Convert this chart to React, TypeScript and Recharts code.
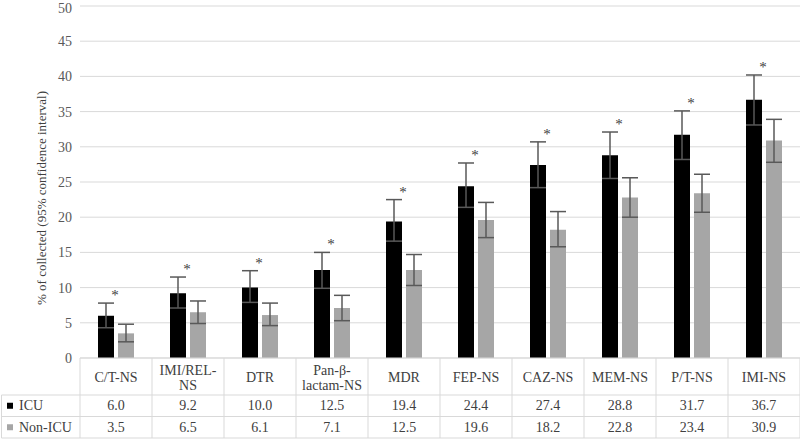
import { ComposedChart, Bar, Line, XAxis, YAxis, CartesianGrid, ErrorBar } from "recharts";

// categories (table header) and the two groups
const categories = ["C/T-NS", "IMI/REL-NS", "DTR", "Pan-β-lactam-NS", "MDR", "FEP-NS", "CAZ-NS", "MEM-NS", "P/T-NS", "IMI-NS"];
const headerLines = [["C/T-NS"], ["IMI/REL-", "NS"], ["DTR"], ["Pan-β-", "lactam-NS"], ["MDR"], ["FEP-NS"], ["CAZ-NS"], ["MEM-NS"], ["P/T-NS"], ["IMI-NS"]];

const icu = [6.0, 9.2, 10.0, 12.5, 19.4, 24.4, 27.4, 28.8, 31.7, 36.7];
const nonIcu = [3.5, 6.5, 6.1, 7.1, 12.5, 19.6, 18.2, 22.8, 23.4, 30.9];

// 95% confidence interval bounds
const icuLow = [4.3, 7.1, 7.9, 9.9, 16.6, 21.4, 24.2, 25.5, 28.2, 33.1];
const icuHigh = [7.8, 11.5, 12.4, 15.0, 22.5, 27.7, 30.7, 32.1, 35.1, 40.2];
const nonIcuLow = [2.3, 4.9, 4.6, 5.3, 10.3, 17.1, 15.8, 20.0, 20.7, 27.8];
const nonIcuHigh = [4.8, 8.1, 7.8, 8.9, 14.7, 22.1, 20.8, 25.6, 26.1, 33.9];

const yTicks = [0, 5, 10, 15, 20, 25, 30, 35, 40, 45, 50];

const data = categories.map((name, i) => ({
  name,
  icu: icu[i],
  nonIcu: nonIcu[i],
  icuErr: [icu[i] - icuLow[i], icuHigh[i] - icu[i]],
  nonIcuErr: [nonIcu[i] - nonIcuLow[i], nonIcuHigh[i] - nonIcu[i]],
  star: icuHigh[i],
}));

const FONT = "'Liberation Serif', 'Times New Roman', 'DejaVu Serif', serif";
const GRID = "#d9d9d9";
const TEXT = "#404040";
const CELL_W = 72;
const HEAD_H = 37;
const ROW_H = 21.5;
const fontStyle = { fontFamily: FONT };

const StarDot = (props: any) => {
  const { cx, cy, index } = props;
  if (cx == null || cy == null) return null;
  return (
    <text key={`star-${index}`} x={cx - 1} y={cy - 3} textAnchor="middle" fontSize={15} style={fontStyle} fill={TEXT}>
      *
    </text>
  );
};

const TableTick = (props: any) => {
  const { x, y, payload } = props;
  const i = payload.index;
  const left = x - CELL_W / 2;
  const right = x + CELL_W / 2;
  const top = y;
  const r1 = top + HEAD_H;
  const r2 = r1 + ROW_H;
  const r3 = r2 + ROW_H;
  const lines = headerLines[i];
  const lh = 15;
  const firstY = top + HEAD_H / 2 + 1 - ((lines.length - 1) * lh) / 2;

  return (
    <g style={fontStyle} fill={TEXT}>
      {i === 0 && (
        <g>
          <line x1={left} y1={top} x2={left} y2={r3} stroke={GRID} />
          <line x1={1.5} y1={r1} x2={left} y2={r1} stroke={GRID} />
          <line x1={1.5} y1={r2} x2={left} y2={r2} stroke={GRID} />
          <line x1={1.5} y1={r3} x2={left} y2={r3} stroke={GRID} />
          <line x1={1.5} y1={r1} x2={1.5} y2={r3} stroke={GRID} />
          <rect x={7} y={r1 + ROW_H / 2 - 3} width={6} height={6} fill="#000" />
          <text x={19} y={r1 + ROW_H / 2} dominantBaseline="central" fontSize={14}>ICU</text>
          <rect x={7} y={r2 + ROW_H / 2 - 3} width={6} height={6} fill="#a6a6a6" />
          <text x={19} y={r2 + ROW_H / 2} dominantBaseline="central" fontSize={14}>Non-ICU</text>
        </g>
      )}
      <line x1={right} y1={top} x2={right} y2={r3} stroke={GRID} />
      <line x1={left} y1={r1} x2={right} y2={r1} stroke={GRID} />
      <line x1={left} y1={r2} x2={right} y2={r2} stroke={GRID} />
      <line x1={left} y1={r3} x2={right} y2={r3} stroke={GRID} />
      {lines.map((t, k) => (
        <text key={k} x={x} y={firstY + k * lh} textAnchor="middle" dominantBaseline="central" fontSize={14}>
          {t}
        </text>
      ))}
      <text x={x} y={r1 + ROW_H / 2} textAnchor="middle" dominantBaseline="central" fontSize={14}>
        {icu[i].toFixed(1)}
      </text>
      <text x={x} y={r2 + ROW_H / 2} textAnchor="middle" dominantBaseline="central" fontSize={14}>
        {nonIcu[i].toFixed(1)}
      </text>
    </g>
  );
};

const YLabel = (props: any) => {
  const { viewBox } = props;
  const cx = 41;
  const cy = viewBox.y + viewBox.height / 2 + 16;
  return (
    <text x={cx} y={cy} transform={`rotate(-90 ${cx} ${cy})`} textAnchor="middle" dominantBaseline="central" fontSize={13} style={fontStyle} fill={TEXT}>
      % of collected (95% confidence interval)
    </text>
  );
};

const App = () => {
  return (
    <div style={{ position: "absolute", left: 0, top: 0, width: 800, height: 442, background: "#fff", fontFamily: FONT }}>
      <ComposedChart
        width={800}
        height={442}
        data={data}
        margin={{ top: 6, right: 0, bottom: 0, left: 0 }}
        barSize={16}
        barGap={4}
        style={fontStyle}
      >
        <CartesianGrid vertical={false} stroke={GRID} strokeWidth={1} />
        <XAxis
          dataKey="name"
          height={84}
          interval={0}
          tickLine={false}
          tickSize={0}
          tickMargin={0}
          axisLine={{ stroke: GRID }}
          tick={<TableTick />}
        />
        <YAxis
          width={80}
          domain={[0, 50]}
          ticks={yTicks}
          axisLine={false}
          tickLine={false}
          tickSize={0}
          tickMargin={8}
          tick={{ fontSize: 14, fill: "#595959", style: fontStyle }}
          label={<YLabel />}
        />
        <Bar dataKey="icu" fill="#000000" isAnimationActive={false}>
          <ErrorBar dataKey="icuErr" width={8} stroke="#595959" strokeWidth={1.5} direction="y" />
        </Bar>
        <Bar dataKey="nonIcu" fill="#a6a6a6" isAnimationActive={false}>
          <ErrorBar dataKey="nonIcuErr" width={8} stroke="#595959" strokeWidth={1.5} direction="y" />
        </Bar>
        <Line dataKey="star" stroke="none" dot={<StarDot />} activeDot={false} legendType="none" isAnimationActive={false} />
      </ComposedChart>
    </div>
  );
};

export default App;
